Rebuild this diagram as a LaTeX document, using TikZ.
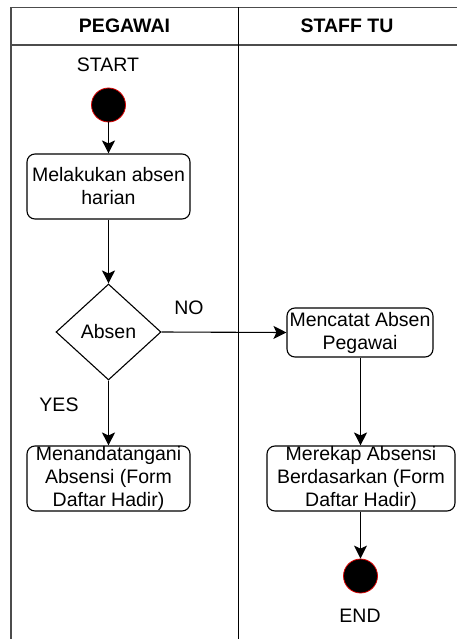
\documentclass[tikz,border=0pt]{standalone}
\usepackage{fontspec}
\setmainfont{Liberation Sans}
\usetikzlibrary{shapes.geometric,arrows.meta}
\begin{document}
\begin{tikzpicture}[x=1pt,y=-1pt,
  lane/.style={draw=black!70,line width=1.6pt},
  divider/.style={draw=black,line width=1pt},
  act/.style={draw=black,line width=1.1pt,rounded corners=8pt,align=center,
    font=\fontsize{19.5}{23}\selectfont,inner sep=0pt},
  lbl/.style={font=\fontsize{19.5}{23}\selectfont,inner sep=0pt},
  hdr/.style={font=\fontsize{19.5}{23}\selectfont\bfseries,inner sep=0pt},
  dot/.style={circle,fill=black,draw=red!85!black,line width=0.8pt,minimum size=34pt,inner sep=0pt},
  flow/.style={draw=black,line width=1.1pt,-{Stealth[length=13pt,width=13pt,inset=3pt]}}]
\useasboundingbox (0,0) rectangle (457,639);
% swimlane frame
\draw[lane] (11,639) -- (11,7.5) -- (457,7.5);
\draw[lane] (11,45) -- (457,45);
\draw[divider] (238,7.5) -- (238,639);
\node[hdr] (h1) at (124.5,26) {PEGAWAI};
\node[hdr] (h2) at (347,26) {STAFF TU};
% PEGAWAI lane
\node[lbl] (startlbl) at (108,65) {START};
\node[dot] (start) at (108.5,105) {};
\node[act,minimum width=163pt,minimum height=65pt] (absen) at (108.5,186.5) {Melakukan absen\\harian};
\node[diamond,draw=black,line width=1.1pt,minimum width=105pt,minimum height=96pt,inner sep=0pt,
  font=\fontsize{19.5}{23}\selectfont] (cek) at (108.5,332) {Absen};
\node[act,minimum width=163pt,minimum height=65pt] (ttd) at (108.5,478.5) {Menandatangani\\Absensi (Form\\Daftar Hadir)};
\node[lbl] (no) at (189,308) {NO};
\node[lbl] (yes) at (59,405) {YES};
% STAFF TU lane
\node[act,minimum width=146pt,minimum height=49pt] (catat) at (360,332.5) {Mencatat Absen\\Pegawai};
\node[act,minimum width=188pt,minimum height=65pt] (rekap) at (361,478.5) {Merekap Absensi\\Berdasarkan (Form\\Daftar Hadir)};
\node[dot] (end) at (360.5,576) {};
\node[lbl] (endlbl) at (360,616) {END};
% flows
\draw[flow] (start) -- (absen);
\draw[flow] (absen) -- (cek);
\draw[flow] (cek.east) -- (catat.west);
\draw[flow] (cek.south) -- (ttd.north);
\draw[flow] (catat.south -| end) -- (rekap.north -| end);
\draw[flow] (rekap.south -| end) -- (end);
\end{tikzpicture}
\end{document}
